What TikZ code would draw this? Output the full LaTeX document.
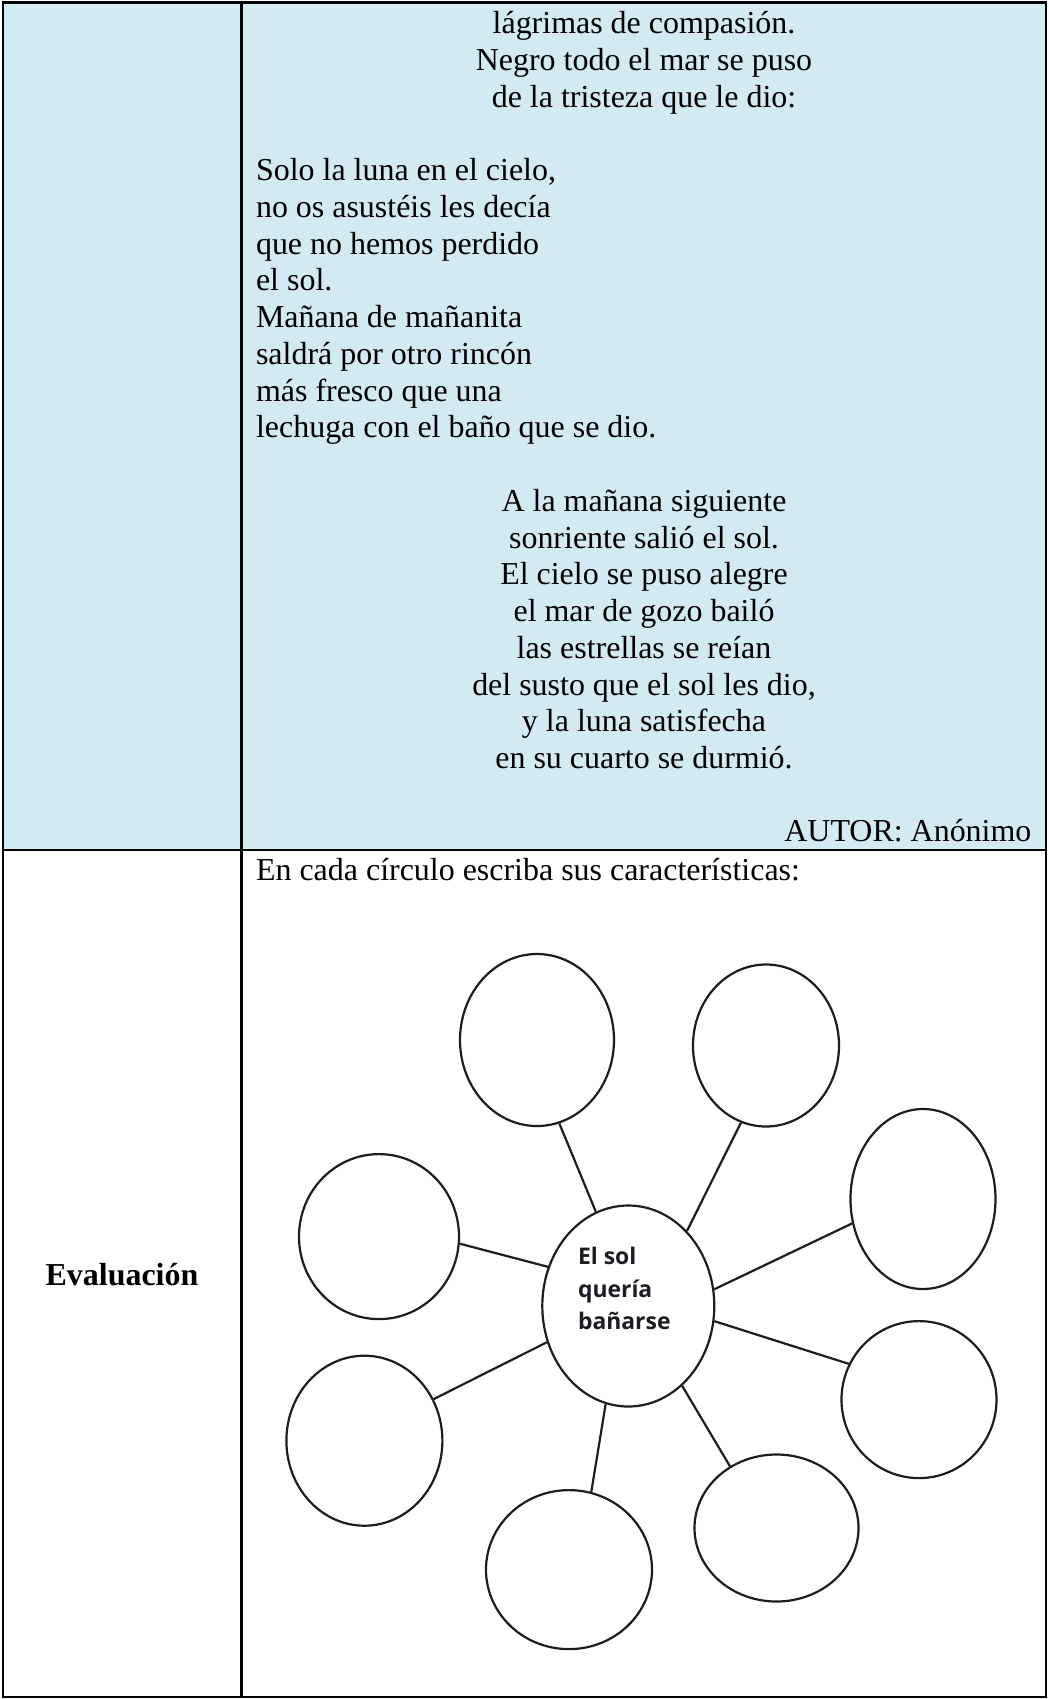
\documentclass[tikz,border=0pt]{standalone}
\usepackage{fontspec}
\setmainfont{Liberation Serif}
\newfontfamily\solfont{Open Sans}
\usetikzlibrary{shapes.geometric}
\definecolor{poemblue}{RGB}{210,234,241}
\definecolor{inkgray}{RGB}{28,28,34}
\newlength\pxu
\setlength\pxu{0.3755pt}

\begin{document}
\begin{tikzpicture}[x=0.3755pt, y=-0.3755pt,
  versec/.style={anchor=base, inner sep=0, font=\fontsize{12}{13.8}\selectfont},
  versel/.style={anchor=base west, inner sep=0, font=\fontsize{12}{13.8}\selectfont},
  soltext/.style={anchor=base west, inner sep=0, text=inkgray, font=\solfont\bfseries\fontsize{8.6}{10}\selectfont},
  blob/.style={ellipse, draw=inkgray, line width=2.2\pxu, inner sep=0},
  spoke/.style={draw=inkgray, line width=2.2\pxu},
  tabline/.style={line width=2.6\pxu}]
\useasboundingbox (0,0) rectangle (1048,1699);

% table
\fill[poemblue] (2.8,2.5) rectangle (1046,850);
\draw[tabline] (2.8,2.5) rectangle (1046,1697);
\draw[tabline] (241.5,2.5) -- (241.5,1697);
\draw[tabline] (2.8,850) -- (1046,850);

% poem
\node[versec] (v0) at (644,33.6) {lágrimas de compasión.};
\node[versec] (v1) at (644,70.4) {Negro todo el mar se puso};
\node[versec] (v2) at (644,107.1) {de la tristeza que le dio:};
\node[versel] (v3) at (255.5,180.6) {Solo la luna en el cielo,};
\node[versel] (v4) at (255.5,217.4) {no os asustéis les decía};
\node[versel] (v5) at (255.5,254.1) {que no hemos perdido};
\node[versel] (v6) at (255.5,290.9) {el sol.};
\node[versel] (v7) at (255.5,327.6) {Mañana de mañanita};
\node[versel] (v8) at (255.5,364.4) {saldrá por otro rincón};
\node[versel] (v9) at (255.5,401.1) {más fresco que una};
\node[versel] (v10) at (255.5,437.9) {lechuga con el baño que se dio.};
\node[versec] (v11) at (644,511.4) {A la mañana siguiente};
\node[versec] (v12) at (644,548.1) {sonriente salió el sol.};
\node[versec] (v13) at (644,584.9) {El cielo se puso alegre};
\node[versec] (v14) at (644,621.6) {el mar de gozo bailó};
\node[versec] (v15) at (644,658.4) {las estrellas se reían};
\node[versec] (v16) at (644,695.1) {del susto que el sol les dio,};
\node[versec] (v17) at (644,731.9) {y la luna satisfecha};
\node[versec] (v18) at (644,768.6) {en su cuarto se durmió.};
\node[versec, anchor=base east] (autor) at (1032,841) {AUTOR: Anónimo};

% evaluation row
\node[versec, font=\bfseries\fontsize{12}{13.8}\selectfont] (eval) at (122,1285) {Evaluación};
\node[versel] (task) at (255.5,880) {En cada círculo escriba sus características:};

% mind map
\node[blob, minimum width=172\pxu, minimum height=201\pxu] (c0) at (628.3,1306) {};
\node[soltext] (t1) at (577.5,1264) {El sol};
\node[soltext] (t2) at (577.5,1297) {quería};
\node[soltext] (t3) at (577.5,1329) {bañarse};

\node[blob, minimum width=154\pxu, minimum height=172\pxu] (n1) at (537,1040) {};
\node[blob, minimum width=146\pxu, minimum height=162\pxu] (n2) at (766,1045.5) {};
\node[blob, minimum width=145\pxu, minimum height=180\pxu] (n3) at (923,1199) {};
\node[blob, minimum width=155\pxu, minimum height=157\pxu] (n4) at (919,1399.6) {};
\node[blob, minimum width=164\pxu, minimum height=147\pxu] (n5) at (776.5,1528) {};
\node[blob, minimum width=166\pxu, minimum height=159\pxu] (n6) at (569,1569.6) {};
\node[blob, minimum width=156\pxu, minimum height=170\pxu] (n7) at (364.4,1440.7) {};
\node[blob, minimum width=160\pxu, minimum height=165\pxu] (n8) at (379,1236.6) {};

\draw[spoke] (c0.109) -- (n1.-75);
\draw[spoke] (c0.52) -- (n2.-108);
\draw[spoke] (c0.11) -- (n3.199);
\draw[spoke] (c0.-10) -- (n4.153);
\draw[spoke] (c0.-56) -- (n5.127);
\draw[spoke] (c0.257) -- (n6.74);
\draw[spoke] (c0.204) -- (n7.31);
\draw[spoke] (c0.154) -- (n8.-5);

\end{tikzpicture}
\end{document}
